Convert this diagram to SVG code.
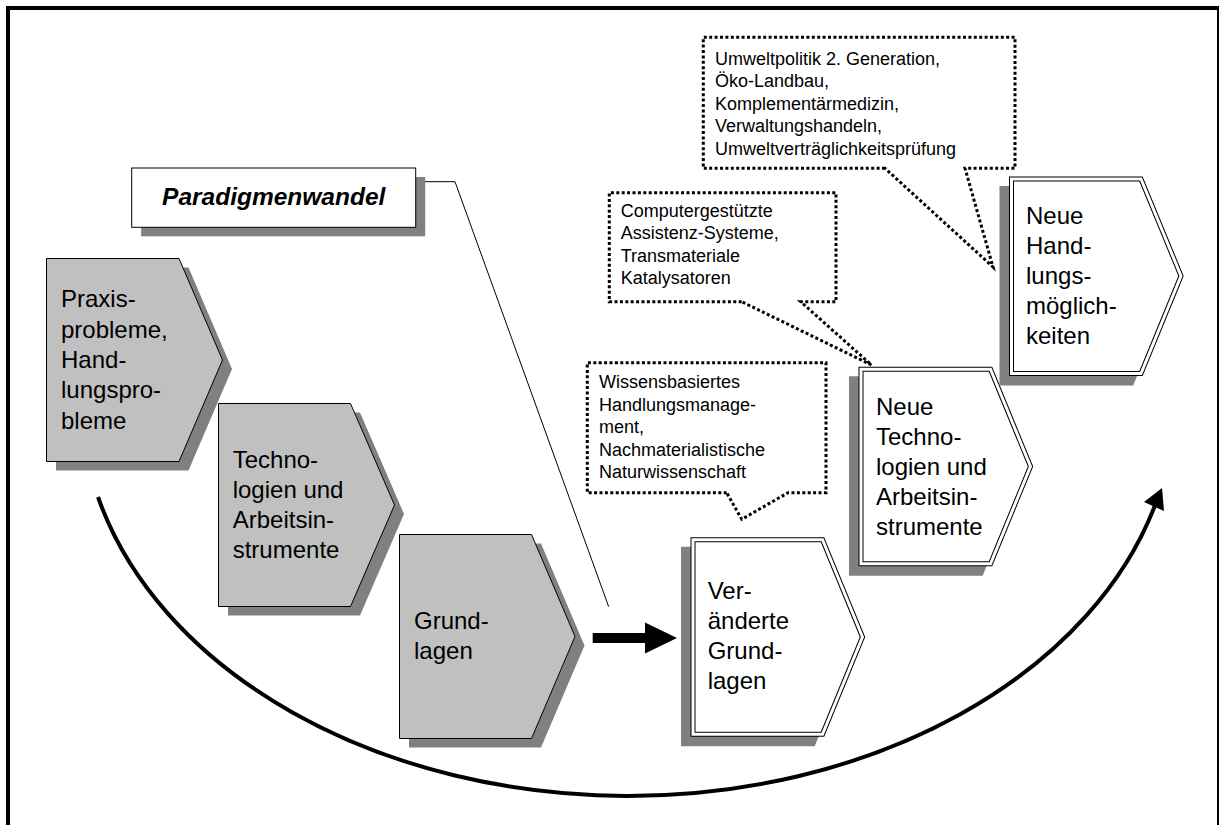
<svg xmlns="http://www.w3.org/2000/svg" width="1219" height="825" viewBox="0 0 1219 825">
<style>
.frame{fill:#fff;stroke:#000;stroke-width:4}
.sh{fill:#808080}
.shw{fill:#808080;stroke:#808080;stroke-width:5;stroke-linejoin:miter}
.gray{fill:#c0c0c0;stroke:#000;stroke-width:1}
.dblo{fill:#fff;stroke:#000;stroke-width:5;stroke-linejoin:miter}
.dbli{fill:none;stroke:#fff;stroke-width:3;stroke-linejoin:miter}
.box{fill:#fff;stroke:#000;stroke-width:1}
.lbl{font-family:"Liberation Sans",Arial,sans-serif;font-size:24px;fill:#000}
.title{font-family:"Liberation Sans",Arial,sans-serif;font-size:24.5px;font-weight:bold;font-style:italic;fill:#000}
.call{fill:#fff;stroke:#000;stroke-width:3;stroke-dasharray:3 2.4}
.ctext{font-family:"Liberation Sans",Arial,sans-serif;font-size:18px;fill:#000}
.thin{fill:none;stroke:#000;stroke-width:1}
.arc{fill:none;stroke:#000;stroke-width:4}
</style>
<rect class="frame" x="8" y="8" width="1211" height="830"/>

<g id="connectors">
  <polyline class="thin" points="416,181.7 455,181.7 608.7,606.7"/>
  <polygon points="592.7,633 645,633 645,622.5 677,638 645,653.5 645,643 592.7,643" fill="#000"/>
  <path class="arc" d="M 98 497 A 547 397 0 0 0 1157 500"/>
  <polygon points="1162,488 1144,502 1164,511" fill="#000"/>
</g>

<g id="node-paradigmenwandel">
  <rect class="sh" x="141.2" y="177" width="284" height="59.3"/>
  <rect class="box" x="131.7" y="168" width="284" height="59.3"/>
  <text class="title" x="273.7" y="205" text-anchor="middle">Paradigmenwandel</text>
</g>

<g id="node-praxisprobleme">
  <polygon class="sh" transform="translate(9.5,9)" points="46.5,258.5 179,258.5 222.5,360 179,461.5 46.5,461.5"/>
  <polygon class="gray" points="46.5,258.5 179,258.5 222.5,360 179,461.5 46.5,461.5"/>
  <text class="lbl" x="61" y="307.3"><tspan x="61">Praxis-</tspan><tspan x="61" dy="30.3">probleme,</tspan><tspan x="61" dy="30.3">Hand-</tspan><tspan x="61" dy="30.3">lungspro-</tspan><tspan x="61" dy="30.3">bleme</tspan></text>
</g>

<g id="node-technologien">
  <polygon class="sh" transform="translate(9.5,9)" points="218.5,403.5 350.5,403.5 394.5,505 350.5,606.5 218.5,606.5"/>
  <polygon class="gray" points="218.5,403.5 350.5,403.5 394.5,505 350.5,606.5 218.5,606.5"/>
  <text class="lbl" x="232.7" y="468.3"><tspan x="232.7">Techno-</tspan><tspan x="232.7" dy="30">logien und</tspan><tspan x="232.7" dy="30">Arbeitsin-</tspan><tspan x="232.7" dy="30">strumente</tspan></text>
</g>

<g id="node-grundlagen">
  <polygon class="sh" transform="translate(9.5,9)" points="399.5,534.5 531.5,534.5 575,636.5 531.5,738.5 399.5,738.5"/>
  <polygon class="gray" points="399.5,534.5 531.5,534.5 575,636.5 531.5,738.5 399.5,738.5"/>
  <text class="lbl" x="414" y="629.3"><tspan x="414">Grund-</tspan><tspan x="414" dy="30">lagen</tspan></text>
</g>

<g id="node-veraenderte-grundlagen">
  <polygon class="shw" transform="translate(-9.5,9.5)" points="693,539.7 822.5,539.7 862.5,637 822.5,734.2 693,734.2"/>
  <polygon class="dblo" points="693,539.7 822.5,539.7 862.5,637 822.5,734.2 693,734.2"/>
  <polygon class="dbli" points="693,539.7 822.5,539.7 862.5,637 822.5,734.2 693,734.2"/>
  <text class="lbl" x="707.7" y="599.3"><tspan x="707.7">Ver-</tspan><tspan x="707.7" dy="30">änderte</tspan><tspan x="707.7" dy="30">Grund-</tspan><tspan x="707.7" dy="30">lagen</tspan></text>
</g>

<g id="node-neue-technologien">
  <polygon class="shw" transform="translate(-9.5,9.5)" points="861,369.3 990.5,369.3 1030.5,466.5 990.5,563.8 861,563.8"/>
  <polygon class="dblo" points="861,369.3 990.5,369.3 1030.5,466.5 990.5,563.8 861,563.8"/>
  <polygon class="dbli" points="861,369.3 990.5,369.3 1030.5,466.5 990.5,563.8 861,563.8"/>
  <text class="lbl" x="876" y="415"><tspan x="876">Neue</tspan><tspan x="876" dy="30">Techno-</tspan><tspan x="876" dy="30">logien und</tspan><tspan x="876" dy="30">Arbeitsin-</tspan><tspan x="876" dy="30">strumente</tspan></text>
</g>

<g id="node-neue-handlungsmoeglichkeiten">
  <polygon class="shw" transform="translate(-9.5,9.5)" points="1011.5,179 1141,179 1181,276 1141,373.5 1011.5,373.5"/>
  <polygon class="dblo" points="1011.5,179 1141,179 1181,276 1141,373.5 1011.5,373.5"/>
  <polygon class="dbli" points="1011.5,179 1141,179 1181,276 1141,373.5 1011.5,373.5"/>
  <text class="lbl" x="1026" y="224"><tspan x="1026">Neue</tspan><tspan x="1026" dy="30">Hand-</tspan><tspan x="1026" dy="30">lungs-</tspan><tspan x="1026" dy="30">möglich-</tspan><tspan x="1026" dy="30">keiten</tspan></text>
</g>

<g id="callout-umweltpolitik">
  <path class="call" d="M 885 168.3 H 703.3 V 37.3 H 1015 V 168.3 H 965 L 993 267 Z"/>
  <text class="ctext" x="715" y="64.5"><tspan x="715">Umweltpolitik 2. Generation,</tspan><tspan x="715" dy="22.5">Öko-Landbau,</tspan><tspan x="715" dy="22.5">Komplementärmedizin,</tspan><tspan x="715" dy="22.5">Verwaltungshandeln,</tspan><tspan x="715" dy="22.5">Umweltverträglichkeitsprüfung</tspan></text>
</g>

<g id="callout-computergestuetzt">
  <path class="call" d="M 741.7 301.7 H 609.3 V 192.7 H 836 V 301.7 H 800.7 L 871.5 365 Z"/>
  <text class="ctext" x="620.7" y="216.7"><tspan x="620.7">Computergestützte</tspan><tspan x="620.7" dy="22.5">Assistenz-Systeme,</tspan><tspan x="620.7" dy="22.5">Transmateriale</tspan><tspan x="620.7" dy="22.5">Katalysatoren</tspan></text>
</g>

<g id="callout-wissensbasiert">
  <path class="call" d="M 726.7 492.7 H 587.3 V 362.7 H 826 V 492.7 H 788 L 741.7 519.3 Z"/>
  <text class="ctext" x="599" y="388.3"><tspan x="599">Wissensbasiertes</tspan><tspan x="599" dy="22.5">Handlungsmanage-</tspan><tspan x="599" dy="22.5">ment,</tspan><tspan x="599" dy="22.5">Nachmaterialistische</tspan><tspan x="599" dy="22.5">Naturwissenschaft</tspan></text>
</g>
</svg>
